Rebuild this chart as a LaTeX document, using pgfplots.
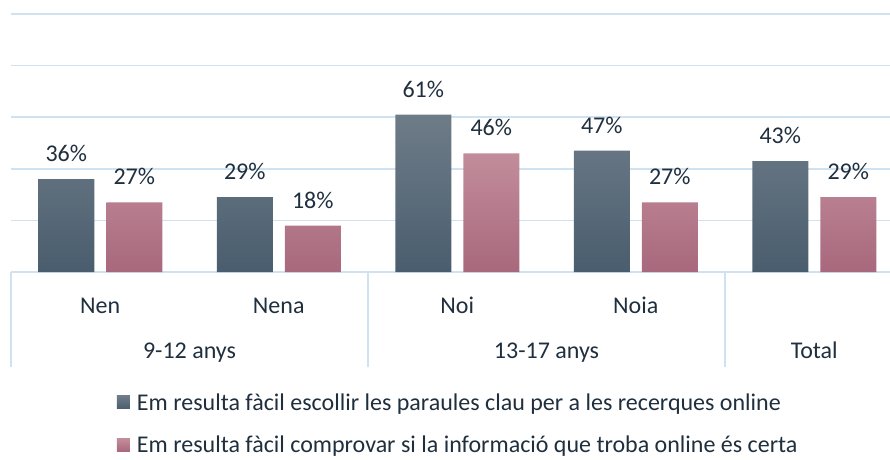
\documentclass[border=0pt]{standalone}
\usepackage{pgfplots}
\pgfplotsset{compat=1.18}
\usepackage{fontspec}
\setmainfont{Carlito}
\definecolor{txt}{HTML}{1F2F3E}
\definecolor{gridblue}{HTML}{CFE2F1}
\definecolor{darkTop}{HTML}{6E7C88}
\definecolor{darkBot}{HTML}{4A5D6E}
\definecolor{pinkTop}{HTML}{C28D9B}
\definecolor{pinkBot}{HTML}{A8687D}
\newcommand\fs{\fontsize{24}{28}\selectfont}
\begin{document}
\begin{tikzpicture}
\useasboundingbox (0,0) rectangle (890pt,459pt);
\clip (0,0) rectangle (890pt,459pt);
\begin{axis}[
  at={(11pt,187pt)}, anchor=south west,
  scale only axis, width=892.5pt, height=258pt,
  xmin=-0.5, xmax=4.5, ymin=0, ymax=100,
  ytick={0,20,40,60,80,100}, yticklabels={},
  xtick=\empty,
  major tick length=0pt,
  ymajorgrids, grid style={draw=gridblue, line width=1.5pt},
  axis line style={draw=none},
  clip=false,
  ybar, bar width=56pt,
  point meta=y,
  nodes near coords={\pgfmathprintnumber[fixed,precision=0,assume math mode=true]{\pgfplotspointmeta}\%},
  every node near coord/.append style={font=\fs, text=txt, inner sep=0pt, anchor=south, yshift=17pt},
  legend image code/.code={\path[#1,draw=none] (0pt,-6.5pt) rectangle (13pt,6.5pt);},
  legend style={at={(axis description cs:0.5,-0.5880)}, anchor=center, draw=none, fill=none,
    font=\fs, text=txt, row sep=27pt, column sep=7pt,
    nodes={inner sep=0pt, text height=15.5pt, text depth=0pt}},
  legend cell align=left,
]
\addplot[bar shift=-34pt, draw=none, top color=darkTop, bottom color=darkBot]
  coordinates {(0,36) (1,29) (2,61) (3,47) (4,43)};
\addlegendentry{Em resulta fàcil escollir les paraules clau per a les recerques online}
\addplot[bar shift=34pt, draw=none, top color=pinkTop, bottom color=pinkBot]
  coordinates {(0,27) (1,18) (2,46) (3,27) (4,29)};
\addlegendentry{Em resulta fàcil comprovar si la informació que troba online és certa}
\draw[gridblue, line width=1.5pt] (axis cs:-0.5,0) -- ++(0pt,-95pt);
\draw[gridblue, line width=1.5pt] (axis cs:1.5,0) -- ++(0pt,-95pt);
\draw[gridblue, line width=1.5pt] (axis cs:3.5,0) -- ++(0pt,-95pt);
\draw[gridblue, line width=1.5pt] (axis cs:4.5,0) -- ++(0pt,-95pt);
\node[anchor=base, font=\fs, text=txt, inner sep=0pt, yshift=-41pt] at (axis cs:0,0) {Nen};
\node[anchor=base, font=\fs, text=txt, inner sep=0pt, yshift=-41pt] at (axis cs:1,0) {Nena};
\node[anchor=base, font=\fs, text=txt, inner sep=0pt, yshift=-41pt] at (axis cs:2,0) {Noi};
\node[anchor=base, font=\fs, text=txt, inner sep=0pt, yshift=-41pt] at (axis cs:3,0) {Noia};
\node[anchor=base, font=\fs, text=txt, inner sep=0pt, yshift=-86pt] at (axis cs:0.5,0) {9-12 anys};
\node[anchor=base, font=\fs, text=txt, inner sep=0pt, yshift=-86pt] at (axis cs:2.5,0) {13-17 anys};
\node[anchor=base, font=\fs, text=txt, inner sep=0pt, yshift=-86pt] at (axis cs:4,0) {Total};
\end{axis}
\end{tikzpicture}
\end{document}
